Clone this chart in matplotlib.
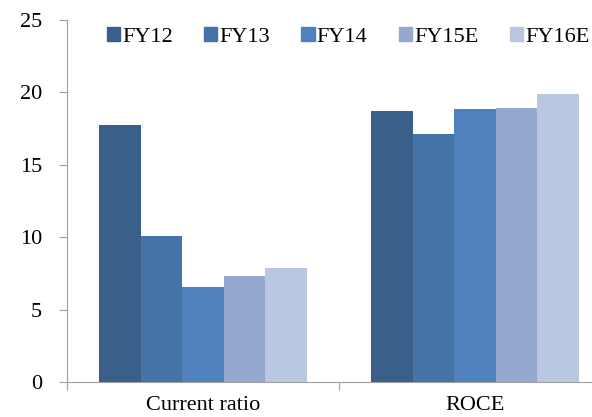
import numpy as np
import matplotlib.pyplot as plt
from matplotlib.patches import Patch

plt.rcParams['font.family'] = ['Liberation Serif', 'DejaVu Serif']

categories = ['Current ratio', 'ROCE']
years = ['FY12', 'FY13', 'FY14', 'FY15E', 'FY16E']
current_ratio = [17.75, 10.1, 6.55, 7.3, 7.85]
roce = [18.7, 17.15, 18.85, 18.95, 19.9]
colors = ['#3A5F8B', '#4473A7', '#4F81BD', '#95A9D0', '#BAC7E1']

values = np.array([current_ratio, roce])

fig = plt.figure(figsize=(5.92, 4.17), dpi=100)
ax = fig.add_axes([67 / 592, 1 - 382 / 417, 544 / 592, 362 / 417])

x = np.arange(len(categories))
width = 0.153
for i, yr in enumerate(years):
    ax.bar(x + (i - 2) * width, values[:, i], width, color=colors[i], label=yr)

ax.set_xlim(-0.5, 1.5)
ax.set_ylim(0, 25)
ax.set_yticks([0, 5, 10, 15, 20, 25])
ax.tick_params(axis='y', labelsize=16, length=6, color='#A0A0A0', pad=12)

# category boundaries get the tick marks, names sit in the middle
ax.set_xticks([-0.5, 0.5, 1.5])
ax.set_xticklabels([])
ax.set_xticks(x, minor=True)
ax.set_xticklabels(categories, minor=True, fontsize=16)
ax.tick_params(axis='x', which='major', length=6, color='#A0A0A0')
ax.tick_params(axis='x', which='minor', length=0, pad=10)

for s in ['top', 'right']:
    ax.spines[s].set_visible(False)
for s in ['left', 'bottom']:
    ax.spines[s].set_color('#A0A0A0')
ax.spines['left'].set_bounds(-0.3, 25)

handles = [Patch(color=c) for c in colors]
fig.legend(handles, years, loc='center', bbox_to_anchor=(0.588, 0.912),
           ncol=5, frameon=False, fontsize=16, handlelength=0.6,
           handleheight=0.6, handletextpad=0.1, columnspacing=1.4)

fig.savefig('out.png', dpi=100)
